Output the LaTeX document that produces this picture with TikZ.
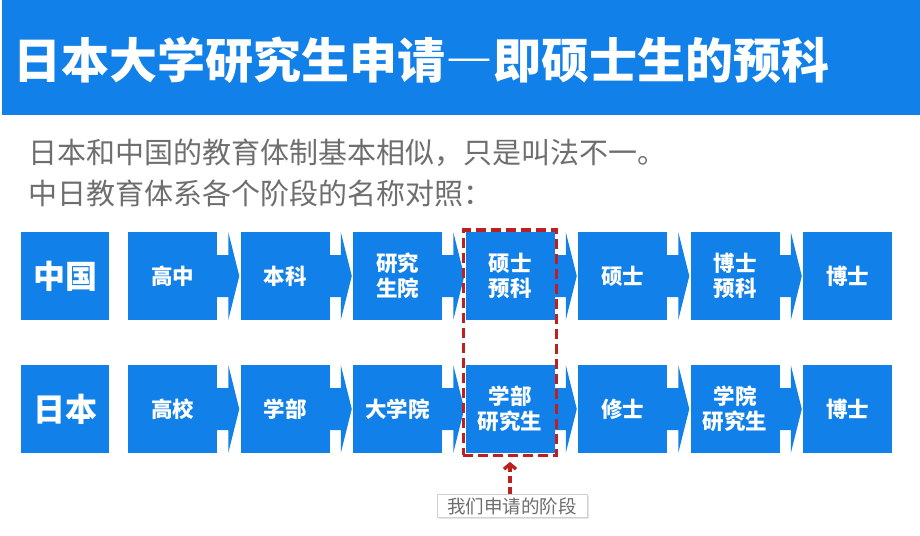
\documentclass[tikz,border=0pt]{standalone}
\usepackage{fontspec}
\setmainfont{Noto Sans CJK SC}
\usepackage{xcolor}
\usetikzlibrary{arrows.meta, positioning, calc, fit, shadows}

\definecolor{stageblue}{RGB}{17,128,232}
\definecolor{markred}{RGB}{188,32,32}
\definecolor{notegray}{RGB}{110,110,110}

\begin{document}
\begin{tikzpicture}[x=1pt, y=-1pt,
    bar/.style={rectangle, fill=stageblue, minimum width=918pt, minimum height=115pt, inner sep=0pt},
    headtext/.style={anchor=west, inner sep=0pt, text=white, font=\bfseries\fontsize{48}{48}\selectfont},
    intro/.style={anchor=west, inner sep=0pt, text=notegray, font=\fontsize{29}{29}\selectfont},
    land/.style={rectangle, fill=stageblue, minimum width=88pt, minimum height=88pt, inner sep=0pt, text=white, font=\bfseries\fontsize{32}{32}\selectfont},
    stagebox/.style={rectangle, fill=stageblue, minimum width=89pt, minimum height=88pt, inner sep=0pt, align=center, text=white, font=\bfseries\fontsize{21.5}{25}\selectfont},
    joint/.style={fill=stageblue},
    pickbox/.style={draw=markred, line width=3.4pt, dash pattern=on 10pt off 5pt, inner sep=2pt},
    note/.style={rectangle, draw=black!18, fill=white, minimum width=150pt, minimum height=23pt, inner sep=0pt, text=notegray, font=\fontsize{18.5}{18.5}\selectfont, drop shadow={shadow xshift=1.5pt, shadow yshift=-1.5pt, opacity=0.2}}
]
    \useasboundingbox (0,0) rectangle (920,535);

    % header
    \node[bar] (bar) at (461,57.5) {};
    \node[headtext] (head) at (13,60) {日本大学研究生申请{\addfontfeatures{RawFeature=+fwid}—}即硕士生的预科};
    \node[intro] (line1) at (28,153) {日本和中国的教育体制基本相似，只是叫法不一。};
    \node[intro] (line2) at (28,193) {中日教育体系各个阶段的名称对照：};

    % China
    \node[land] (cn) at (65,276) {中国};
    \node[stagebox] (c1) at (172.5,276) {高中};
    \node[stagebox] (c2) at (285,276) {本科};
    \node[stagebox] (c3) at (397.5,276) {研究\\生院};
    \node[stagebox] (c4) at (510,276) {硕士\\预科};
    \node[stagebox] (c5) at (622.5,276) {硕士};
    \node[stagebox] (c6) at (735,276) {博士\\预科};
    \node[stagebox] (c7) at (847.5,276) {博士};

    % Japan
    \node[land] (jp) at (65,409) {日本};
    \node[stagebox] (j1) at (172.5,409) {高校};
    \node[stagebox] (j2) at (285,409) {学部};
    \node[stagebox] (j3) at (397.5,409) {大学院};
    \node[stagebox] (j4) at (510,409) {学部\\研究生};
    \node[stagebox] (j5) at (622.5,409) {修士};
    \node[stagebox] (j6) at (735,409) {学院\\研究生};
    \node[stagebox] (j7) at (847.5,409) {博士};

    \foreach \i [count=\n from 2] in {1,...,6}
        \foreach \r in {c,j}
            \fill[joint] ($(\r\i.east)+(-0.5,-21)$) -- ($(\r\n.west)+(-12,-21)$) -- ($(\r\n.west)+(-12,-44)$)
                -- ($(\r\n.west)+(-1,0)$) -- ($(\r\n.west)+(-12,44)$) -- ($(\r\n.west)+(-12,21)$)
                -- ($(\r\i.east)+(-0.5,21)$) -- cycle;

    \node[pickbox, fit=(c4)(j4)] (pick) {};
    \node[note] (note) at (512,506) {我们申请的阶段};
    \draw[markred, line width=3.4pt, dash pattern=on 7pt off 4pt, -{Straight Barb[length=5pt, width=12pt]}]
        (note.north -| pick.south) -- ($(pick.south)+(0,5)$);
\end{tikzpicture}
\end{document}
